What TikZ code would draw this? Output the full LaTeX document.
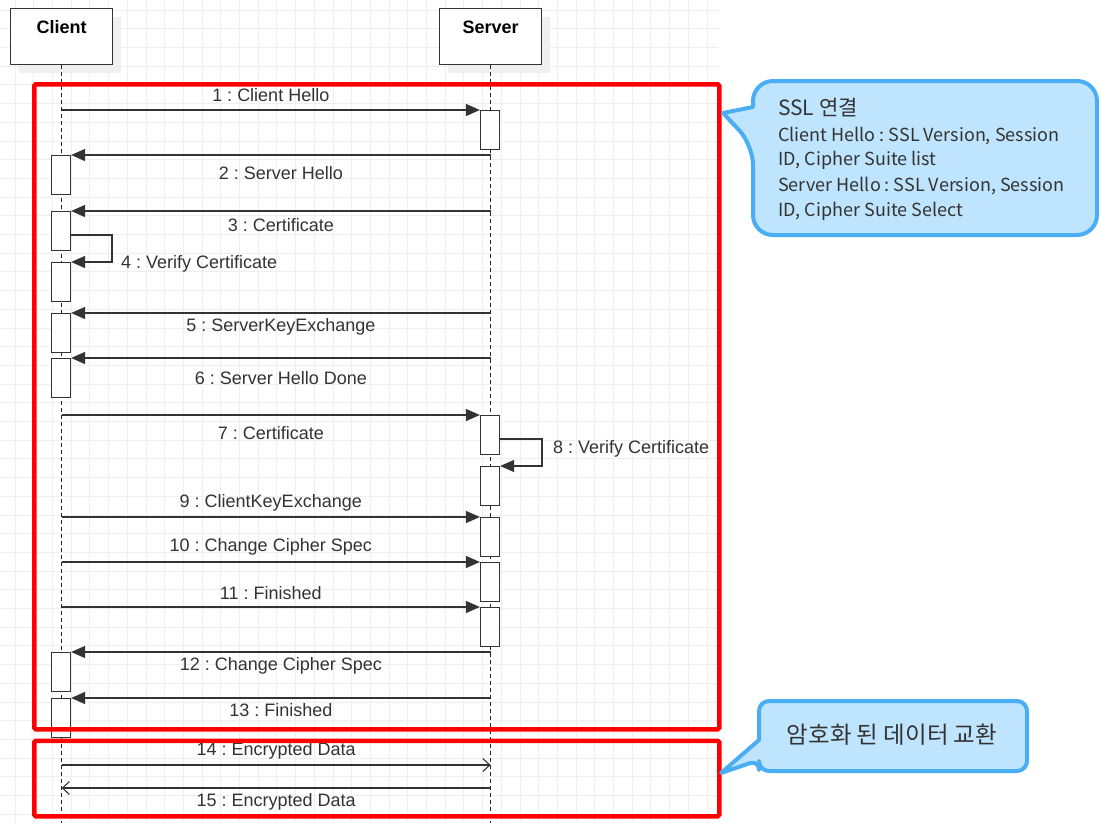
\documentclass[tikz,border=0pt]{standalone}
\usepackage{fontspec}
\setmainfont{Liberation Sans}
\newfontfamily\krfont{Noto Sans CJK KR}
\usetikzlibrary{arrows.meta,shadows}
\definecolor{noteblue}{RGB}{74,174,245}
\definecolor{notefill}{RGB}{191,228,253}
\definecolor{inkgray}{RGB}{51,51,51}
\definecolor{gridgray}{RGB}{238,238,238}
\frenchspacing

\begin{document}
\begin{tikzpicture}[x=1pt,y=-1pt,
		head/.style={draw=inkgray,line width=1.3pt,fill=white,minimum width=102pt,minimum height=56pt,anchor=north west,inner sep=0pt,
			drop shadow={shadow xshift=8pt,shadow yshift=-8pt,fill=black!6,opacity=1}},
		act/.style={draw=inkgray,line width=1.2pt,fill=white,minimum width=19pt,minimum height=39pt,anchor=north,inner sep=0pt},
		msg/.style={line width=1.3pt,draw=inkgray,-{Triangle[length=14pt,width=12pt]}},
		open msg/.style={line width=1.1pt,draw=inkgray,-{Straight Barb[length=7pt,width=13pt]}},
		life/.style={line width=1.2pt,draw=black!85,dash pattern=on 4pt off 3pt},
		lbl/.style={font=\fontsize{18}{20}\selectfont,text=inkgray,inner sep=0pt},
		phase/.style={draw=red,line width=4.5pt,rounded corners=1.5pt,inner sep=0pt,anchor=north west},
		note/.style={draw=noteblue,fill=notefill,line width=4pt,line join=round},
		notetext/.style={text=inkgray,inner sep=0pt,anchor=west}]
	\useasboundingbox (0,0) rectangle (1101,823);
	\fill[white] (0,0) rectangle (1101,823);
	\begin{scope}
		\clip (0,0) rectangle (718,823);
		\draw[gridgray,line width=0.8pt,shift={(15,10)}] (-15,-10) grid[step=18.7pt] (703,813);
	\end{scope}

	\node[head,label={[anchor=north,yshift=-9pt,font=\fontsize{18}{20}\selectfont\bfseries]north:Client}] (cl) at (10,8) {};
	\node[head,label={[anchor=north,yshift=-9pt,font=\fontsize{18}{20}\selectfont\bfseries]north:Server}] (sv) at (439,8) {};
	\coordinate (bottom) at (0,823);
	\draw[life] (cl.south) -- (cl.south |- bottom);
	\draw[life] (sv.south) -- (sv.south |- bottom);

	\foreach \n/\x/\y in {s1/490/110, c2/61/155, c3/61/211, c4/61/262, c5/61/313, c6/61/358,
		s7/490/415, s8/490/466, s9/490/517, s10/490/562, s11/490/607, c12/61/652, c13/61/698}
		\node[act] (\n) at (\x,\y) {};

	\draw[msg] (cl |- s1.north) -- node[lbl,yshift=15pt] (m1) {1 : Client Hello} (s1.north west);
	\draw[msg] (sv |- c2.north) -- node[lbl,yshift=-18pt] (m2) {2 : Server Hello} (c2.north east);
	\draw[msg] (sv |- c3.north) -- node[lbl,yshift=-14pt] (m3) {3 : Certificate} (c3.north east);
	\draw[msg] ([yshift=-4pt]c3.east) -- ++(41,0) |- (c4.north east);
	\node[lbl,anchor=west] (m4) at (121,264) {4 : Verify Certificate};
	\draw[msg] (sv |- c5.north) -- node[lbl,yshift=-14pt] (m5) {5 : ServerKeyExchange} (c5.north east);
	\draw[msg] (sv |- c6.north) -- node[lbl,yshift=-20pt] (m6) {6 : Server Hello Done} (c6.north east);
	\draw[msg] (cl |- s7.north) -- node[lbl,yshift=-18pt] (m7) {7 : Certificate} (s7.north west);
	\draw[msg] ([yshift=-4pt]s7.east) -- ++(42,0) |- (s8.north east);
	\node[lbl,anchor=west] (m8) at (553,449) {8 : Verify Certificate};
	\draw[msg] (cl |- s9.north) -- node[lbl,yshift=14pt] (m9) {9 : ClientKeyExchange} (s9.north west);
	\draw[msg] (cl |- s10.north) -- node[lbl,yshift=15pt] (m10) {10 : Change Cipher Spec} (s10.north west);
	\draw[msg] (cl |- s11.north) -- node[lbl,yshift=14pt] (m11) {11 : Finished} (s11.north west);
	\draw[msg] (sv |- c12.north) -- node[lbl,yshift=-14pt] (m12) {12 : Change Cipher Spec} (c12.north east);
	\draw[msg] (sv |- c13.north) -- node[lbl,yshift=-12pt] (m13) {13 : Finished} (c13.north east);
	\coordinate (e14) at (0,765);
	\coordinate (e15) at (0,788);
	\draw[open msg] (cl |- e14) -- node[lbl,yshift=14pt] (m14) {14 : Encrypted Data} (sv |- e14);
	\draw[open msg] (sv |- e15) -- node[lbl,yshift=-14pt] (m15) {15 : Encrypted Data} (cl |- e15);

	\node[phase,minimum width=685pt,minimum height=645pt] (hs) at (32,82) {};
	\node[phase,minimum width=685pt,minimum height=75.5pt] (xfer) at (32,738.5) {};

	\draw[note,rounded corners=20pt] (925,235) -- (753,235) -- (753,145) [sharp corners] -- (723,113) -- (753,107) [rounded corners=20pt] -- (753,81) -- (1097,81) -- (1097,235) -- cycle;
	\node[notetext,font=\krfont\fontsize{21}{24}\selectfont] (n0) at (778,108) {SSL 연결};
	\node[notetext,font=\krfont\fontsize{18}{20}\selectfont] (n1) at (778,136) {Client Hello : SSL Version, Session};
	\node[notetext,font=\krfont\fontsize{18}{20}\selectfont] (n2) at (778,160) {ID, Cipher Suite list};
	\node[notetext,font=\krfont\fontsize{18}{20}\selectfont] (n3) at (778,186) {Server Hello : SSL Version, Session};
	\node[notetext,font=\krfont\fontsize{18}{20}\selectfont] (n4) at (778,211) {ID, Cipher Suite Select};

	\draw[note,rounded corners=10pt] (893,771) -- (759,771) -- (759,760) [sharp corners] -- (721,773) -- (759,740) [rounded corners=10pt] -- (759,701) -- (1027,701) -- (1027,771) -- cycle;
	\node[notetext,anchor=center,font=\krfont\fontsize{23.5}{26}\selectfont] (n5) at (892,735) {암호화 된 데이터 교환};
\end{tikzpicture}
\end{document}
